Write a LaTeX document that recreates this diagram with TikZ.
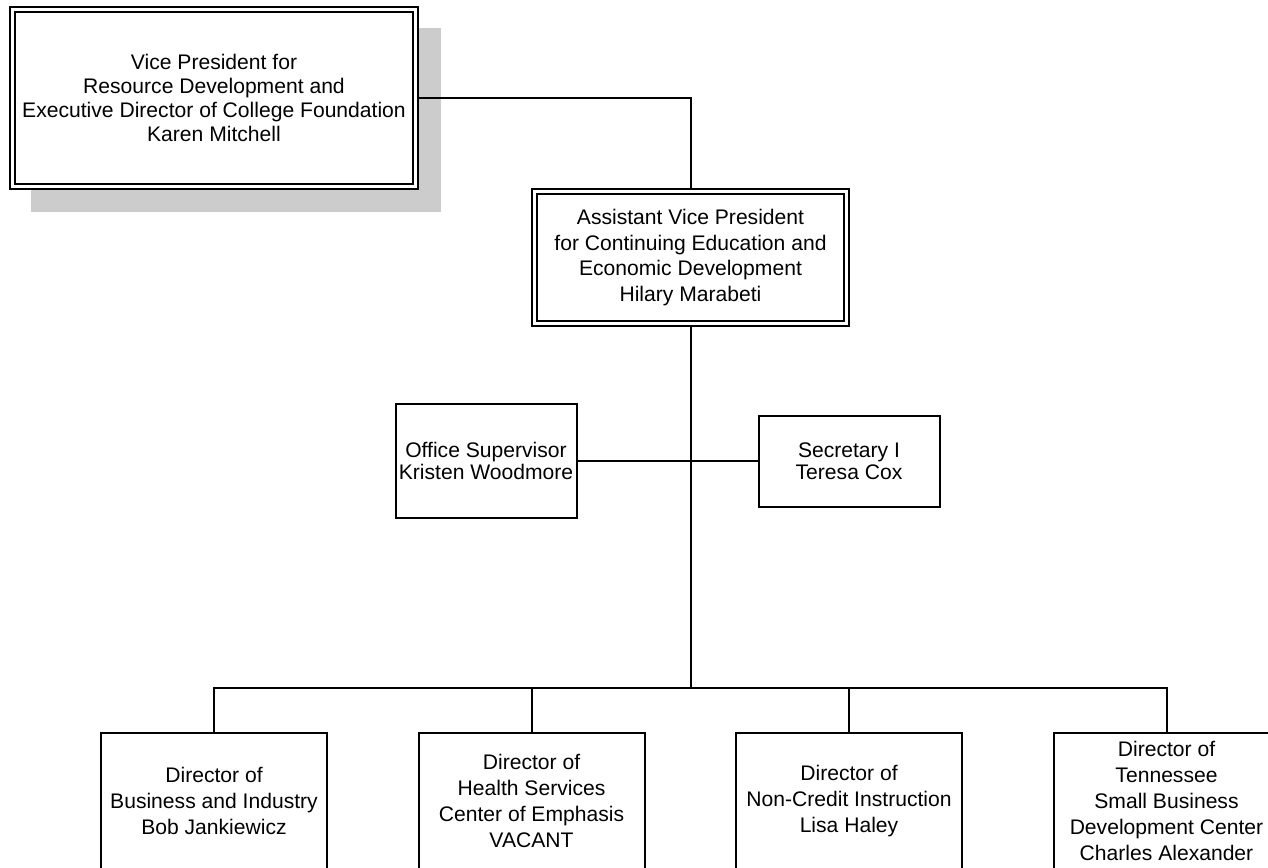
\documentclass[tikz,border=0pt]{standalone}
\usepackage{fontspec}
\setmainfont{Liberation Sans}
\usetikzlibrary{positioning, backgrounds}

\begin{document}
\begin{tikzpicture}[
    x=1pt, y=-1pt,
    chief/.style={rectangle, draw=black, double, double distance=3pt, line width=2pt, fill=white, align=center, inner sep=0pt, outer sep=3.5pt},
    staff/.style={rectangle, draw=black, line width=2pt, fill=white, align=center, inner sep=0pt, minimum width=181pt},
    director/.style={staff, minimum width=226pt, minimum height=136pt, font=\fontsize{21.1}{25.8}\selectfont},
    link/.style={line width=2pt}
]
\useasboundingbox (0,0) rectangle (1268,867);

\node (vp) [chief, minimum width=402.5pt, minimum height=176pt, font=\fontsize{21.1}{24.3}\selectfont] at (214,98) {Vice President for\\Resource Development and\\Executive Director of College Foundation\\Karen Mitchell};
\node (avp) [chief, minimum width=312pt, minimum height=132pt, font=\fontsize{21.1}{25.8}\selectfont] at (690.5,257.5) {Assistant Vice President\\for Continuing Education and\\Economic Development\\Hilary Marabeti};

% shadow behind the top box
\begin{scope}[on background layer]
\fill [black!20] ([shift={(22,22)}]vp.north west) rectangle ([shift={(22,22)}]vp.south east);
\end{scope}

\node (office) [staff, minimum height=113.5pt, font=\fontsize{21.1}{22.5}\selectfont] at (486,461) {Office Supervisor\\Kristen Woodmore};
\node (secretary) [staff, minimum height=91pt, font=\fontsize{21.1}{22.5}\selectfont] at (849,461) {Secretary I\\Teresa Cox};

\node (biz) [director] at (214,801) {Director of\\Business and Industry\\Bob Jankiewicz};
\node (health) [director] at (531.5,801) {Director of\\Health Services\\Center of Emphasis\\VACANT};
\node (noncredit) [director] at (849,801) {Director of\\Non-Credit Instruction\\Lisa Haley};
\node (sbdc) [director] at (1166.5,801) {Director of\\Tennessee\\Small Business\\Development Center\\Charles Alexander};

\coordinate (hub) at (690.5,688);

\draw [link] (vp.east) -| (avp.north);
\draw [link] (avp.south) -- (hub);
\draw [link] (office.east) -- (secretary.west);
\foreach \d in {biz, health, noncredit, sbdc}
    \draw [link] (hub) -| (\d.north);

\end{tikzpicture}
\end{document}
